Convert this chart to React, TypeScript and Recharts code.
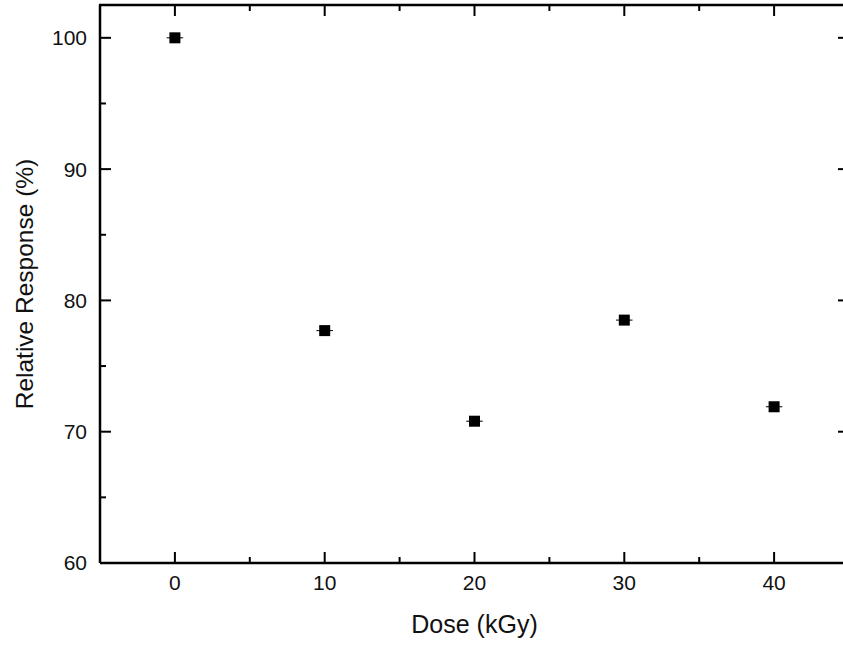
import { ScatterChart, Scatter, XAxis, YAxis, ErrorBar } from "recharts";

const doses = [0, 10, 20, 30, 40];
const responses = [100, 77.7, 70.8, 78.5, 71.9];
const doseErrors = [0.55, 0.55, 0.55, 0.55, 0.55];
const xTicks = [0, 5, 10, 15, 20, 25, 30, 35, 40];
const yTicks = [60, 65, 70, 75, 80, 85, 90, 95, 100];
const Y_MAX = 102.5;

const data = doses.map((d, i) => ({ dose: d, response: responses[i], err: doseErrors[i] }));

const FONT = '"Liberation Sans", Arial, sans-serif';
// plot frame edges (chart layout)
const LEFT = 100;
const RIGHT = 849;
const TOP = 5;
const BOTTOM = 563;

const isMajor = (v: number) => v % 10 === 0;
const tickLen = (v: number) => (isMajor(v) ? 11 : 6);

// bottom axis tick, mirrored on the top frame edge (first tick also draws the top frame line)
function BottomTick({ x, payload, index }: any) {
  const v = payload.value;
  return (
    <g>
      {index === 0 && <line x1={LEFT - 1} x2={RIGHT + 1} y1={TOP} y2={TOP} stroke="#000" strokeWidth={2.5} />}
      <line x1={x} x2={x} y1={BOTTOM} y2={BOTTOM - tickLen(v)} stroke="#000" strokeWidth={2} />
      <line x1={x} x2={x} y1={TOP} y2={TOP + tickLen(v)} stroke="#000" strokeWidth={2} />
      {isMajor(v) && (
        <text x={x} y={BOTTOM + 12} dy="0.71em" textAnchor="middle" fontSize={21} fontFamily={FONT} fill="#111">
          {v}
        </text>
      )}
    </g>
  );
}

function LeftTick({ y, payload }: any) {
  const v = payload.value;
  return (
    <g>
      <line x1={LEFT} x2={LEFT + tickLen(v)} y1={y} y2={y} stroke="#000" strokeWidth={2} />
      {isMajor(v) && (
        <text x={LEFT - 13} y={y} dy="0.355em" textAnchor="end" fontSize={21} fontFamily={FONT} fill="#111">
          {v}
        </text>
      )}
    </g>
  );
}

function RightTick({ y, payload }: any) {
  return <line x1={RIGHT} x2={RIGHT - tickLen(payload.value)} y1={y} y2={y} stroke="#000" strokeWidth={2} />;
}

function Marker({ cx, cy }: any) {
  return <rect x={cx - 5.5} y={cy - 5.5} width={11} height={11} fill="#000" />;
}

function NoMarker() {
  return <g />;
}

const axisLine = { stroke: "#000", strokeWidth: 2.5 };

export default function App() {
  return (
    <>
      <style>{"body{margin:0;overflow:hidden;background:#fff}"}</style>
      <div style={{ width: 843, height: 646, overflow: "hidden", background: "#fff" }}>
        <ScatterChart width={860} height={646} margin={{ top: TOP, right: 860 - RIGHT - 1, bottom: 0, left: 0 }}>
          <XAxis
            type="number"
            dataKey="dose"
            domain={[-5, 45]}
            ticks={xTicks}
            interval={0}
            height={646 - BOTTOM}
            tickSize={0}
            tickMargin={0}
            tickLine={false}
            axisLine={axisLine}
            tick={<BottomTick />}
            label={{
              value: "Dose (kGy)",
              position: "insideBottom",
              offset: 13,
              fontSize: 25,
              fontFamily: FONT,
              fill: "#111",
            }}
          />
          <YAxis
            type="number"
            dataKey="response"
            domain={[60, Y_MAX]}
            ticks={yTicks}
            interval={0}
            width={LEFT}
            tickSize={0}
            tickMargin={0}
            tickLine={false}
            axisLine={axisLine}
            tick={<LeftTick />}
            label={{
              value: "Relative Response (%)",
              angle: -90,
              position: "insideLeft",
              offset: 24,
              textAnchor: "middle",
              fontSize: 24.5,
              fontFamily: FONT,
              fill: "#111",
            }}
          />
          <YAxis
            yAxisId="right"
            orientation="right"
            type="number"
            dataKey="response"
            domain={[60, Y_MAX]}
            ticks={yTicks}
            interval={0}
            width={1}
            tickSize={0}
            tickMargin={0}
            tickLine={false}
            axisLine={axisLine}
            tick={<RightTick />}
          />
          <Scatter data={data} yAxisId="right" shape={<NoMarker />} isAnimationActive={false} />
          <Scatter data={data} shape={<Marker />} isAnimationActive={false}>
            <ErrorBar dataKey="err" direction="x" width={0} stroke="#000" strokeWidth={1} isAnimationActive={false} />
          </Scatter>
        </ScatterChart>
      </div>
    </>
  );
}
